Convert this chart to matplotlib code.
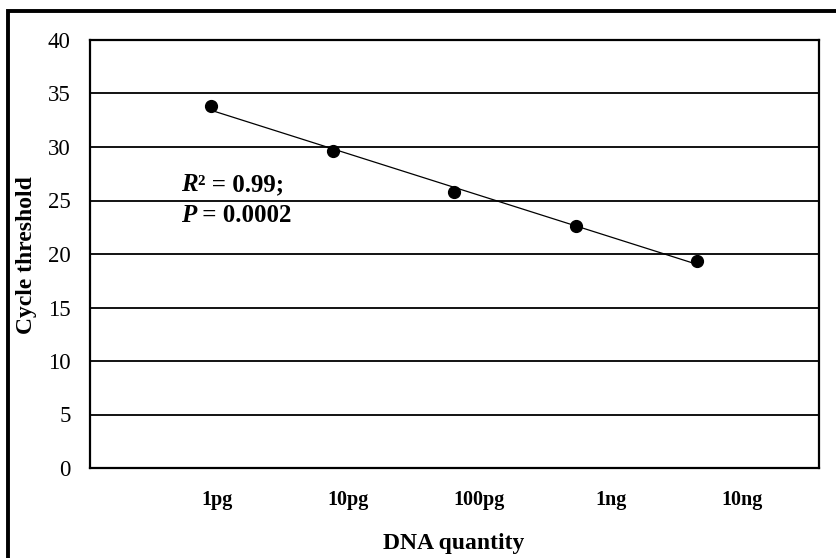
import numpy as np
import matplotlib
matplotlib.use("Agg")
import matplotlib.pyplot as plt
from matplotlib.patches import Rectangle

# Data
categories = ["1pg", "10pg", "100pg", "1ng", "10ng"]
ct_values = [33.8, 29.6, 25.8, 22.6, 19.3]
y_ticks = [0, 5, 10, 15, 20, 25, 30, 35, 40]
r2_text = "0.99"
p_text = "0.0002"

plt.rcParams['font.family'] = ['Liberation Serif', 'DejaVu Serif']

W, H = 837, 558
fig = plt.figure(figsize=(W / 100, H / 100), dpi=100)
ax = fig.add_axes([90 / W, 1 - 468 / H, (819 - 90) / W, (468 - 40) / H])

x = np.arange(1, len(ct_values) + 1)
y = np.array(ct_values)

# gridlines
ax.set_ylim(0, 40)
ax.set_xlim(0, 6)
ax.set_yticks(y_ticks)
ax.yaxis.grid(True, color='black', linewidth=1.3)
ax.set_axisbelow(True)

# trendline
coef = np.polyfit(x, y, 1)
xf = np.array([x[0], x[-1]])
ax.plot(xf, np.polyval(coef, xf), color='black', linewidth=0.9, zorder=3)
ax.plot(x, y, 'o', color='black', markersize=8.5, zorder=4)

for s in ax.spines.values():
    s.set_linewidth(1.6)
    s.set_color('black')

ax.tick_params(axis='both', length=0)
ax.tick_params(axis='y', pad=14, labelsize=16.5)
# category labels (spread slightly wider than points, as in the source)
label_pos = 1.045 + np.arange(len(categories)) * 1.08
ax.set_xticks(label_pos)
ax.set_xticklabels(categories, fontweight='bold', fontsize=14.5)
ax.tick_params(axis='x', pad=16)

fig.text(27 / W, 1 - 255 / H, "Cycle threshold", rotation=90, fontweight='bold',
         fontsize=17, ha='center', va='center')
fig.text(454 / W, 1 - 543 / H, "DNA quantity", fontweight='bold',
         fontsize=17, ha='center', va='center')

# annotation
fs = 18
t1 = ax.text(0.75, 26.45, "R", fontstyle='italic', fontweight='bold', fontsize=fs,
             va='center', ha='left')
ax.annotate("\u00b2 = " + r2_text + ";", xy=(1, 0), xycoords=t1, va='bottom', ha='left',
            fontweight='bold', fontsize=fs)
t2 = ax.text(0.75, 23.6, "P", fontstyle='italic', fontweight='bold', fontsize=fs,
             va='center', ha='left')
ax.annotate(" = " + p_text, xy=(1, 0), xycoords=t2, va='bottom', ha='left',
            fontweight='bold', fontsize=fs)

# outer border
fig.patches.append(Rectangle((8 / W, -0.1), 1.2, 1.1 - 11.5 / H, transform=fig.transFigure,
                             fill=False, edgecolor='black', linewidth=2.8, clip_on=False))

fig.savefig("out.png", dpi=100, facecolor='white')
